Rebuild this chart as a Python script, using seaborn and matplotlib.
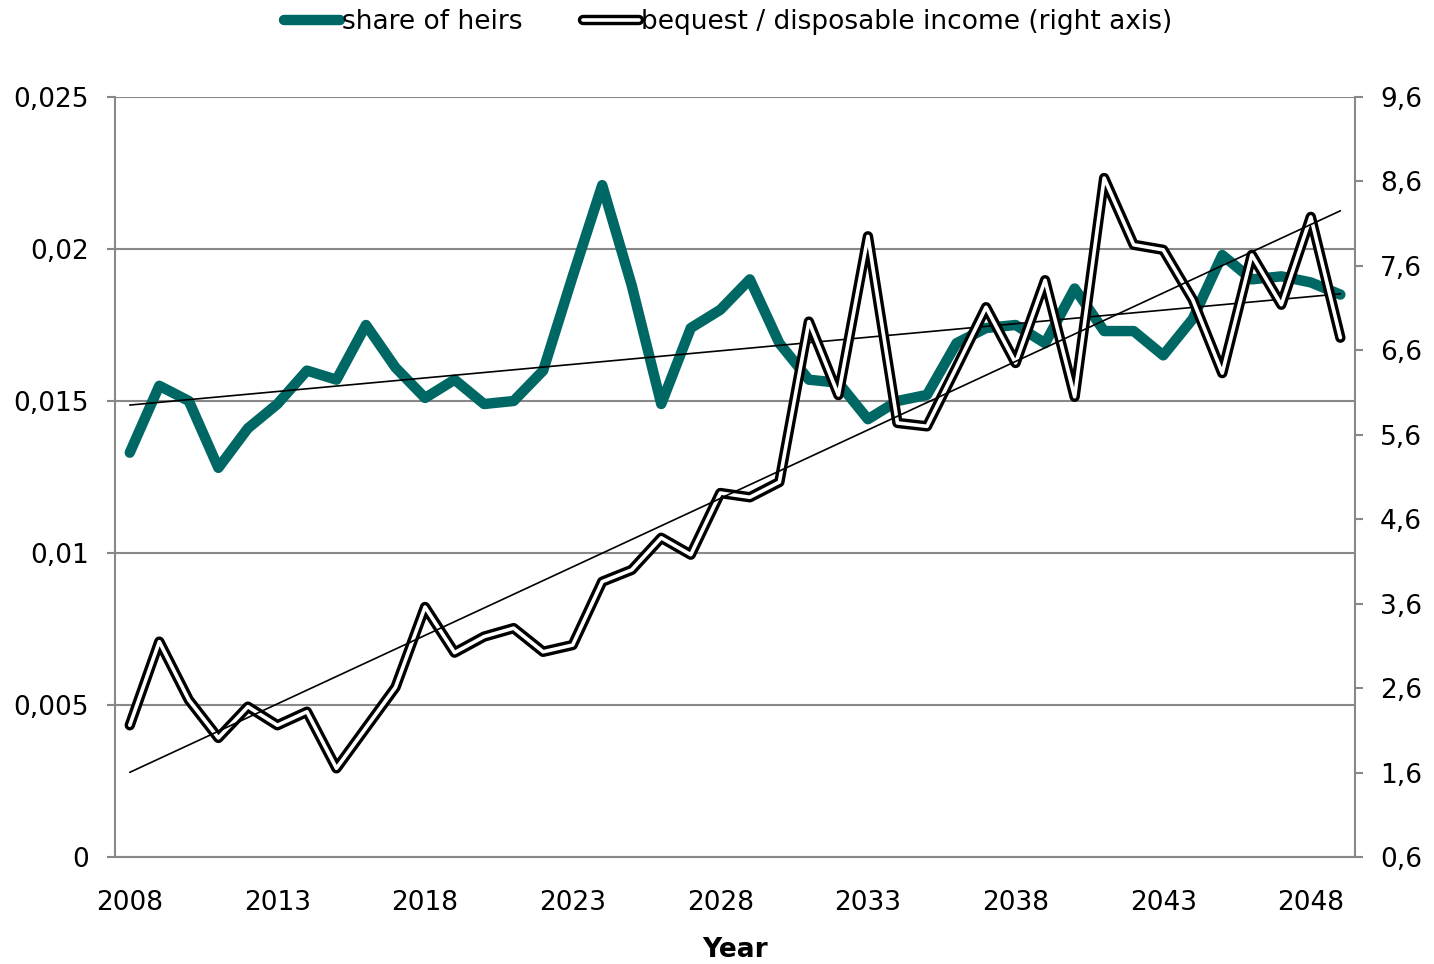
import numpy as np
import pandas as pd
import matplotlib
matplotlib.use('Agg')
import matplotlib.pyplot as plt
import seaborn as sns
from matplotlib.ticker import FuncFormatter, FixedLocator
from matplotlib.lines import Line2D
from matplotlib.legend_handler import HandlerTuple

# data
years = list(range(2008, 2050))

share_of_heirs = [0.0133, 0.0155, 0.0150, 0.0128, 0.0141, 0.0149, 0.0160, 0.0157,
                  0.0175, 0.0161, 0.0151, 0.0157, 0.0149, 0.0150, 0.0160, 0.0191,
                  0.0221, 0.0188, 0.0149, 0.0174, 0.0180, 0.0190, 0.0169, 0.0157,
                  0.0156, 0.0144, 0.0150, 0.0152, 0.0169, 0.0174, 0.0175, 0.0169,
                  0.0187, 0.0173, 0.0173, 0.0165, 0.0177, 0.0198, 0.0190, 0.0191,
                  0.0189, 0.0185]

bequest_ratio = [2.16, 3.15, 2.46, 2.01, 2.38, 2.16, 2.32, 1.65,
                 2.13, 2.61, 3.56, 3.02, 3.21, 3.31, 3.03, 3.11,
                 3.86, 4.00, 4.38, 4.18, 4.91, 4.86, 5.04, 6.94,
                 6.07, 7.95, 5.74, 5.70, 6.40, 7.11, 6.45, 7.43,
                 6.05, 8.64, 7.85, 7.79, 7.20, 6.33, 7.73, 7.14,
                 8.18, 6.75]

left_ticks = [0, 0.005, 0.01, 0.015, 0.02, 0.025]
right_ticks = [0.6, 1.6, 2.6, 3.6, 4.6, 5.6, 6.6, 7.6, 8.6, 9.6]
year_labels = [2008, 2013, 2018, 2023, 2028, 2033, 2038, 2043, 2048]

df = pd.DataFrame({'year': years, 'share': share_of_heirs, 'bequest': bequest_ratio})

# linear trend lines like the spreadsheet ones
share_fit = np.polyfit(df['year'], df['share'], 1)
bequest_fit = np.polyfit(df['year'], df['bequest'], 1)
df['share_trend'] = np.polyval(share_fit, df['year'])
df['bequest_trend'] = np.polyval(bequest_fit, df['year'])

sns.set_style('white')
plt.rcParams['font.family'] = ['DejaVu Sans']
plt.rcParams['text.color'] = 'black'
plt.rcParams['xtick.labelcolor'] = 'black'
plt.rcParams['ytick.labelcolor'] = 'black'
plt.rcParams['axes.labelcolor'] = 'black'

teal = '#006864'
grey = '#888888'

fig = plt.figure(figsize=(14.34, 9.64), dpi=100)
ax = fig.add_axes([0.0802, 0.111, 0.8648, 0.7884])
ax2 = ax.twinx()

# left axis: share of heirs
sns.lineplot(data=df, x='year', y='share', ax=ax, color=teal, linewidth=7.5,
             solid_capstyle='round', solid_joinstyle='round', zorder=3)
sns.lineplot(data=df, x='year', y='share_trend', ax=ax, color='black',
             linewidth=1.2, zorder=4)

# right axis: bequest / disposable income, drawn as a double line
sns.lineplot(data=df, x='year', y='bequest', ax=ax2, color='black', linewidth=7.5,
             solid_capstyle='round', solid_joinstyle='round', zorder=3)
sns.lineplot(data=df, x='year', y='bequest', ax=ax2, color='white', linewidth=2.6,
             solid_capstyle='round', solid_joinstyle='round', zorder=4)
sns.lineplot(data=df, x='year', y='bequest_trend', ax=ax2, color='black',
             linewidth=1.2, zorder=5)

def comma(v, pos):
    return ('%g' % v).replace('.', ',')

ax.set_xlim(2007.5, 2049.5)
ax.set_ylim(0, 0.025)
ax2.set_ylim(0.6, 9.6)

ax.yaxis.set_major_locator(FixedLocator(left_ticks))
ax.yaxis.set_major_formatter(FuncFormatter(comma))
ax2.yaxis.set_major_locator(FixedLocator(right_ticks))
ax2.yaxis.set_major_formatter(FuncFormatter(comma))

ax.xaxis.set_major_locator(FixedLocator(year_labels))
ax.xaxis.set_minor_locator(FixedLocator([y - 0.5 for y in years] + [years[-1] + 0.5]))
ax.tick_params(axis='x', which='major', length=0, pad=24, labelsize=19)
ax.tick_params(axis='x', which='minor', length=6, width=1.5, color=grey, direction='out')
ax.tick_params(axis='y', length=6, width=1.5, color=grey, pad=13, labelsize=19,
               direction='out')
ax2.tick_params(axis='y', length=6, width=1.5, color=grey, pad=12, labelsize=19,
                direction='out')

ax.grid(axis='y', color=grey, linewidth=1.5)
ax.grid(axis='x', visible=False)
ax2.grid(False)

for s in ['top', 'right']:
    ax.spines[s].set_visible(False)
for s in ['top', 'left', 'bottom']:
    ax2.spines[s].set_visible(False)
for s in ['left', 'bottom']:
    ax.spines[s].set_color(grey)
    ax.spines[s].set_linewidth(1.5)
ax2.spines['right'].set_color(grey)
ax2.spines['right'].set_linewidth(1.5)

ax.set_xlabel('Year', fontsize=19, fontweight='bold', labelpad=15)
ax.set_ylabel('')
ax2.set_ylabel('')

# legend
h1 = Line2D([], [], color=teal, linewidth=7.5, solid_capstyle='round')
h2a = Line2D([], [], color='black', linewidth=7.5, solid_capstyle='round')
h2b = Line2D([], [], color='white', linewidth=2.6, solid_capstyle='round')
fig.legend([h1, (h2a, h2b)],
           ['share of heirs', 'bequest / disposable income (right axis)'],
           handler_map={tuple: HandlerTuple(ndivide=1)},
           loc='center', bbox_to_anchor=(0.508, 0.977), ncol=2, frameon=False,
           fontsize=19, handlelength=2.1, handletextpad=0.1, columnspacing=2.3)

fig.savefig('out.png', dpi=100, facecolor='white')
